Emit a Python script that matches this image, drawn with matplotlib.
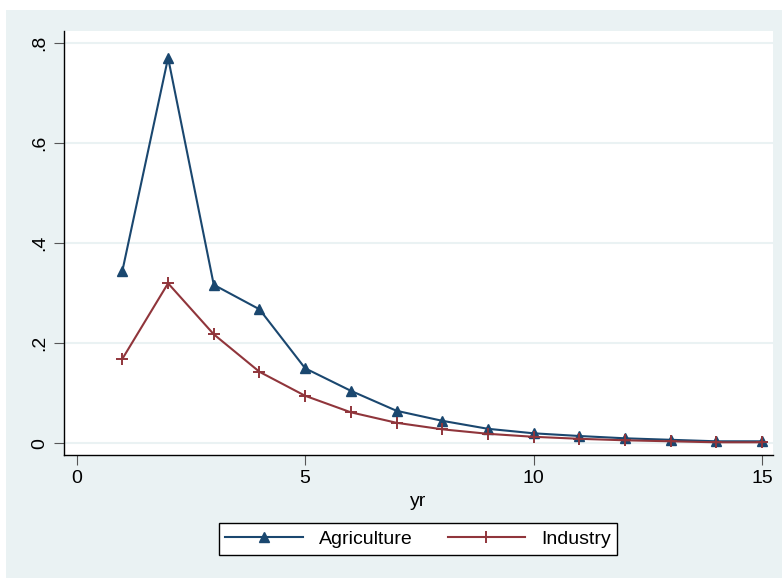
import numpy as np
import matplotlib.pyplot as plt

# data
yr = [1, 2, 3, 4, 5, 6, 7, 8, 9, 10, 11, 12, 13, 14, 15]
agriculture = [0.345, 0.771, 0.317, 0.268, 0.150, 0.105, 0.065, 0.045, 0.029,
               0.020, 0.0146, 0.010, 0.007, 0.004, 0.004]
industry = [0.169, 0.320, 0.218, 0.143, 0.095, 0.062, 0.041, 0.028, 0.019,
            0.013, 0.009, 0.006, 0.004, 0.002, 0.002]

yticks = [0, 0.2, 0.4, 0.6, 0.8]
ytick_labels = ["0", ".2", ".4", ".6", ".8"]
xticks = [0, 5, 10, 15]

bg = "#eaf2f3"
navy = "#1a476f"
maroon = "#90353b"
fs = 14

plt.rcParams['font.family'] = ['Liberation Sans', 'DejaVu Sans']

fig = plt.figure(figsize=(7.82, 5.79), dpi=100)
fig.patch.set_facecolor("white")
W, H = 782, 579
# stata style graph region (behind the axes)
fig.patches.append(plt.Rectangle((6 / W, 1 - 578 / H), 776 / W, 568 / H,
                                 transform=fig.transFigure, facecolor=bg,
                                 edgecolor="none", zorder=-10))

ax = fig.add_axes([64 / W, 1 - 455 / H, (773 - 64) / W, (455 - 31) / H])
ax.set_facecolor("white")

ax.plot(yr, agriculture, color=navy, lw=1.5, marker="^", ms=7,
        label="Agriculture", zorder=3)
ax.plot(yr, industry, color=maroon, lw=1.5, marker="+", ms=8, mew=1.4,
        label="Industry", zorder=3)

ax.set_xlim(-0.278, 15.24)
ax.set_ylim(-0.0234, 0.8246)
ax.set_xticks(xticks)
ax.set_yticks(yticks)
ax.set_yticklabels(ytick_labels, rotation=90, va="center")
ax.tick_params(labelsize=fs, length=7, width=0.8, color="#555555", pad=4)
ax.grid(axis="y", color=bg, lw=1.5, zorder=1)
ax.set_axisbelow(True)

for s in ["top", "right"]:
    ax.spines[s].set_visible(False)
for s in ["left", "bottom"]:
    ax.spines[s].set_color("black")
    ax.spines[s].set_linewidth(1.0)

ax.set_xlabel("yr", fontsize=fs, labelpad=4)

leg = fig.legend(loc="center", bbox_to_anchor=(418 / W, 1 - 539 / H), ncol=2,
                 fontsize=fs, frameon=True, fancybox=False, edgecolor="black",
                 handlelength=4.0, handletextpad=0.8, columnspacing=1.8,
                 borderpad=0.35, framealpha=1)
leg.get_frame().set_linewidth(1.0)

fig.savefig("out.png", dpi=100, facecolor=fig.get_facecolor())
